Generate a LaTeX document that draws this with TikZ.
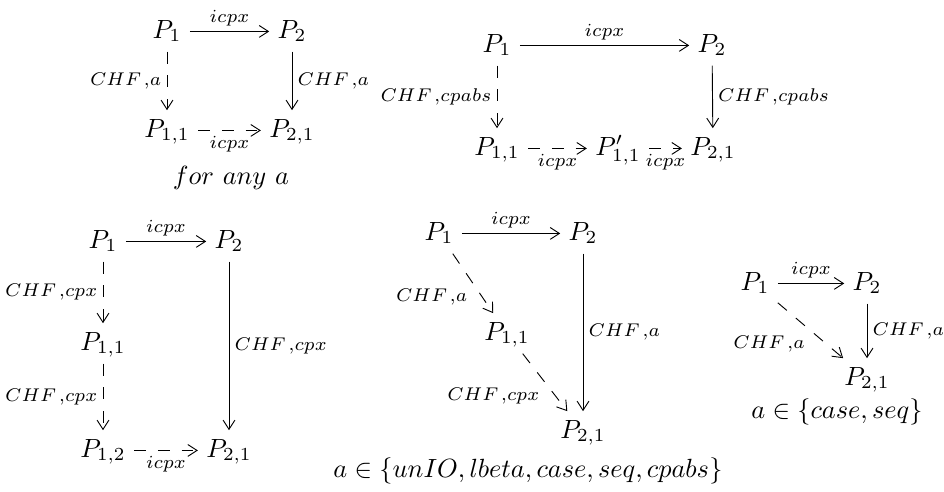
\documentclass[tikz,border=0pt]{standalone}
\usetikzlibrary{arrows.meta}
\newcommand{\cm}{\mskip2mu{,}}
\begin{document}
\begin{tikzpicture}[x=0.38pt,y=-0.38pt,
  obj/.style={anchor=base, inner sep=3pt, text height=7pt, text depth=2pt},
  lbl/.style={font=\scriptsize, inner sep=2pt},
  txt/.style={anchor=base, inner sep=0pt},
  arr/.style={-{Straight Barb[length=3.5pt,width=4.5pt]}, line width=0.35pt},
  darr/.style={arr, dash pattern=on 4.5pt off 4.5pt}]
\useasboundingbox (0,0) rectangle (944,491);
% Diagram 1
\node[obj] (a1) at (167,38) {$P_1$};
\node[obj] (a2) at (292,38) {$P_2$};
\node[obj] (a11) at (167,137) {$P_{1,1}$};
\node[obj] (a21) at (292,137) {$P_{2,1}$};
\draw[arr] (a1) -- node[lbl,above] {$icpx$} (a2);
\draw[darr] (a1) -- node[lbl,left] {$CHF\cm a$} (a11);
\draw[arr] (a2) -- node[lbl,right] {$CHF\cm a$} (a21);
\draw[darr] (a11) -- node[lbl,below] {$icpx$} (a21);
\node[txt] (t1) at (231,184) {$for\ any\ a$};
% Diagram 2
\node[obj] (b1) at (497,52) {$P_1$};
\node[obj] (b2) at (712,52) {$P_2$};
\node[obj] (b11) at (497,155) {$P_{1,1}$};
\node[obj] (b11p) at (618,155) {$P'_{1,1}$};
\node[obj] (b21) at (713,155) {$P_{2,1}$};
\draw[arr] (b1) -- node[lbl,above] {$icpx$} (b2);
\draw[darr] (b1) -- node[lbl,left] {$CHF\cm cpabs$} (b11);
\draw[arr] (b2) -- node[lbl,right] {$CHF\cm cpabs$} (b21);
\draw[darr] (b11) -- node[lbl,below] {$icpx$} (b11p);
\draw[darr] (b11p) -- node[lbl,below] {$icpx$} (b21);
% Diagram 3
\node[obj] (c1) at (103,248) {$P_1$};
\node[obj] (c2) at (229,248) {$P_2$};
\node[obj] (c11) at (103,350) {$P_{1,1}$};
\node[obj] (c12) at (103,457) {$P_{1,2}$};
\node[obj] (c21) at (229,457) {$P_{2,1}$};
\draw[arr] (c1) -- node[lbl,above] {$icpx$} (c2);
\draw[darr] (c1) -- node[lbl,left] {$CHF\cm cpx$} (c11);
\draw[darr] (c11) -- node[lbl,left] {$CHF\cm cpx$} (c12);
\draw[arr] (c2) -- node[lbl,right] {$CHF\cm cpx$} (c21);
\draw[darr] (c12) -- node[lbl,below] {$icpx$} (c21);
% Diagram 4
\node[obj] (d1) at (439,240) {$P_1$};
\node[obj] (d2) at (583,240) {$P_2$};
\node[obj] (d11) at (507,340) {$P_{1,1}$};
\node[obj] (d21) at (583,438) {$P_{2,1}$};
\draw[arr] (d1) -- node[lbl,above] {$icpx$} (d2);
\draw[darr] (d1) -- node[lbl,below left] {$CHF\cm a$} (d11);
\draw[darr] (d11) -- node[lbl,below left] {$CHF\cm cpx$} (d21);
\draw[arr] (d2) -- node[lbl,right] {$CHF\cm a$} (d21);
\node[txt] (t4) at (528,477) {$a\in\{unIO,lbeta,case,seq,cpabs\}$};
% Diagram 5
\node[obj] (e1) at (755,290) {$P_1$};
\node[obj] (e2) at (867,290) {$P_2$};
\node[obj] (e21) at (867,385) {$P_{2,1}$};
\draw[arr] (e1) -- node[lbl,above] {$icpx$} (e2);
\draw[darr] (e1) -- node[lbl,below left] {$CHF\cm a$} (e21);
\draw[arr] (e2) -- node[lbl,right] {$CHF\cm a$} (e21);
\node[txt] (t5) at (837,418) {$a\in\{case,seq\}$};
\end{tikzpicture}
\end{document}
